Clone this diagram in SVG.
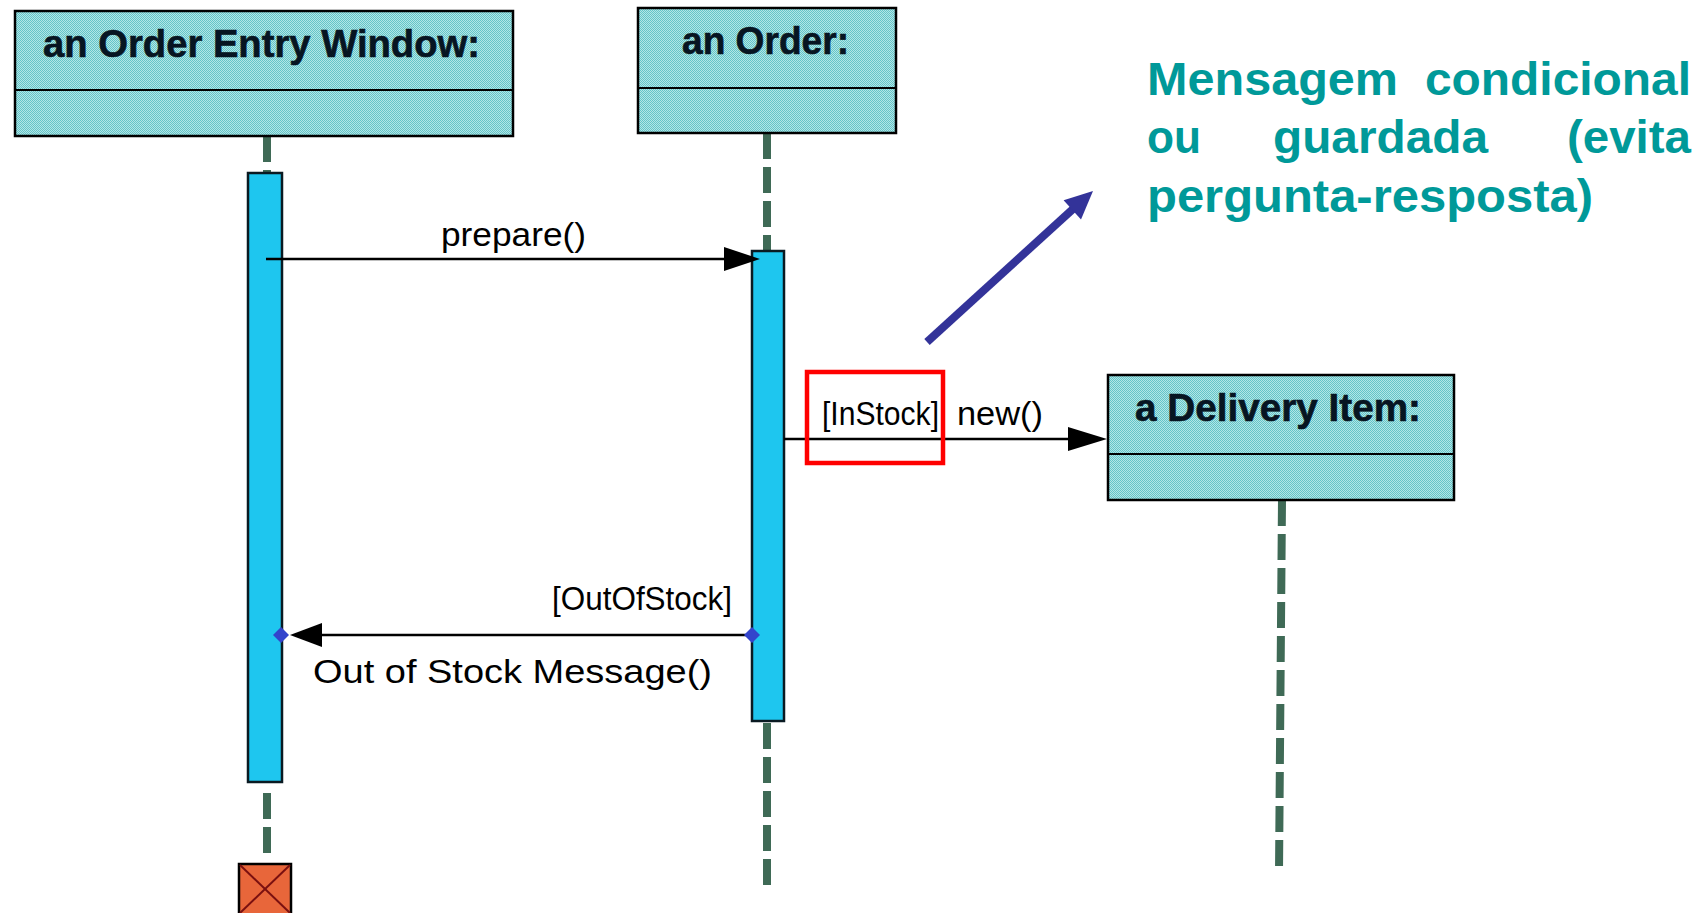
<svg xmlns="http://www.w3.org/2000/svg" width="1708" height="913" viewBox="0 0 1708 913">
  <style>
    .hdr { font-family: "Liberation Sans", Arial, sans-serif; font-weight: bold; font-size: 38px; fill: #071522; stroke: #071522; stroke-width: 0.6; }
    .msg { font-family: "Liberation Sans", Arial, sans-serif; font-size: 34px; fill: #000; }
    .note { font-family: "Liberation Sans", Arial, sans-serif; font-weight: bold; font-size: 46px; fill: #009999; }
    .obj { fill: url(#dither); stroke: #000; stroke-width: 2.5; }
    .div { stroke: #000; stroke-width: 2; }
    .life { stroke: #3f6a56; stroke-width: 8; stroke-dasharray: 26 8; fill: none; }
    .act { fill: #1ec6ef; stroke: #0a1a22; stroke-width: 2.5; }
    .call { stroke: #000; stroke-width: 2.5; fill: none; }
    .head { fill: #000; }
    .dot { fill: #3344cc; }
  </style>
  <defs>
    <!-- fine checker dither used for the object header fill -->
    <pattern id="dither" width="2" height="2" patternUnits="userSpaceOnUse">
      <rect width="2" height="2" fill="#b2e6e6"/>
      <rect width="1" height="1" fill="#64c4c8"/>
      <rect x="1" y="1" width="1" height="1" fill="#64c4c8"/>
    </pattern>
  </defs>

  <rect width="1708" height="913" fill="#fff"/>

  <!-- lifelines -->
  <g id="lifelines">
    <line class="life" x1="267" y1="136" x2="267" y2="173"/>
    <line class="life" x1="267" y1="793" x2="267" y2="858"/>
    <line class="life" x1="767" y1="133" x2="767" y2="251"/>
    <line class="life" x1="767" y1="723" x2="767" y2="888"/>
    <line class="life" x1="1282" y1="500" x2="1279" y2="873"/>
  </g>

  <!-- object: an Order Entry Window -->
  <g id="order-entry-window">
    <rect class="obj" x="15" y="11" width="498" height="125"/>
    <line class="div" x1="15" y1="90" x2="513" y2="90"/>
    <text class="hdr" x="43" y="57" textLength="437" lengthAdjust="spacingAndGlyphs">an Order Entry Window:</text>
    <rect class="act" x="248" y="173" width="34" height="609"/>
  </g>

  <!-- object: an Order -->
  <g id="order">
    <rect class="obj" x="638" y="8" width="258" height="125"/>
    <line class="div" x1="638" y1="88" x2="896" y2="88"/>
    <text class="hdr" x="682" y="54" textLength="167" lengthAdjust="spacingAndGlyphs">an Order:</text>
    <rect class="act" x="752" y="251" width="32" height="470"/>
  </g>

  <!-- object: a Delivery Item -->
  <g id="delivery-item">
    <rect class="obj" x="1108" y="375" width="346" height="125"/>
    <line class="div" x1="1108" y1="454" x2="1454" y2="454"/>
    <text class="hdr" x="1135" y="421" textLength="286" lengthAdjust="spacingAndGlyphs">a Delivery Item:</text>
  </g>

  <!-- destruction marker -->
  <g id="destroy">
    <rect x="239" y="864" width="52" height="52" fill="#e8663a" stroke="#000" stroke-width="2.5"/>
    <line x1="240" y1="865" x2="290" y2="913" stroke="#7a1010" stroke-width="2"/>
    <line x1="290" y1="865" x2="240" y2="913" stroke="#7a1010" stroke-width="2"/>
  </g>

  <!-- messages -->
  <g id="connectors">
    <line class="call" x1="266" y1="259" x2="726" y2="259"/>
    <polygon class="head" points="724,247 760,259 724,271"/>

    <line class="call" x1="784" y1="439" x2="1070" y2="439"/>
    <polygon class="head" points="1068,427 1107,439 1068,451"/>

    <line class="call" x1="320" y1="635" x2="752" y2="635"/>
    <polygon class="head" points="322,623 290,635 322,647"/>
    <polygon class="dot" points="281,627 289,635 281,643 273,635"/>
    <polygon class="dot" points="752,627 760,635 752,643 744,635"/>
  </g>

  <g id="labels">
    <text class="msg" x="441" y="246" font-size="38" textLength="145" lengthAdjust="spacingAndGlyphs">prepare()</text>
    <text class="msg" x="822" y="425" font-size="35" textLength="117" lengthAdjust="spacingAndGlyphs">[InStock]</text>
    <text class="msg" x="957" y="425" font-size="35" textLength="86" lengthAdjust="spacingAndGlyphs">new()</text>
    <text class="msg" x="552" y="610" font-size="34" textLength="180" lengthAdjust="spacingAndGlyphs">[OutOfStock]</text>
    <text class="msg" x="313" y="683" font-size="40" textLength="399" lengthAdjust="spacingAndGlyphs">Out of Stock Message()</text>
  </g>

  <!-- guard highlight -->
  <g id="guard-highlight">
    <rect x="807" y="372" width="136" height="91" fill="none" stroke="#ff0000" stroke-width="4.5"/>
  </g>

  <!-- callout arrow -->
  <g id="callout-arrow">
    <line x1="927" y1="342" x2="1073" y2="209" stroke="#333399" stroke-width="8"/>
    <polygon points="1093,191 1081,219.4 1063.6,200.2" fill="#333399"/>
  </g>

  <!-- annotation -->
  <g id="annotation">
    <text class="note" x="1147" y="95" textLength="251" lengthAdjust="spacingAndGlyphs">Mensagem</text>
    <text class="note" x="1425" y="95" textLength="266" lengthAdjust="spacingAndGlyphs">condicional</text>
    <text class="note" x="1147" y="153" textLength="54" lengthAdjust="spacingAndGlyphs">ou</text>
    <text class="note" x="1273" y="153" textLength="215" lengthAdjust="spacingAndGlyphs">guardada</text>
    <text class="note" x="1567" y="153" textLength="124" lengthAdjust="spacingAndGlyphs">(evita</text>
    <text class="note" x="1147" y="212" textLength="446" lengthAdjust="spacingAndGlyphs">pergunta-resposta)</text>
  </g>
</svg>
